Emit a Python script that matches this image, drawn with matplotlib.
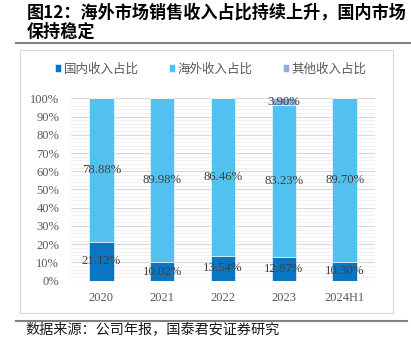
import matplotlib.pyplot as plt
from matplotlib.patches import Rectangle
from matplotlib.lines import Line2D
from matplotlib.ticker import MultipleLocator, PercentFormatter

# data (percent)
years = ['2020', '2021', '2022', '2023', '2024H1']
domestic = [21.12, 10.02, 13.54, 12.87, 10.30]
overseas = [78.88, 89.98, 86.46, 83.23, 89.70]
other = [0, 0, 0, 3.90, 0]
series_names = ['国内收入占比', '海外收入占比', '其他收入占比']
colors = ['#0A76C2', '#53C1EF', '#8FAADC']

cjk = ['Noto Sans CJK SC', 'DejaVu Sans']
serif = 'Liberation Serif'

fig = plt.figure(figsize=(4.11, 3.38), dpi=100)

# title and separators
fig.text(0.066, 0.962, '图12：海外市场销售收入占比持续上升，国内市场', family=cjk,
         fontsize=12.3, weight='bold', va='center', ha='left')
fig.text(0.066, 0.905, '保持稳定', family=cjk, fontsize=12.3, weight='bold',
         va='center', ha='left')
fig.add_artist(Line2D([0.039, 1.0], [0.872, 0.872], color='#808080', lw=1.5))
fig.add_artist(Line2D([0.039, 0.99], [0.051, 0.051], color='#808080', lw=1.5))
fig.add_artist(Rectangle((0.049, 0.074), 0.907, 0.778, fill=False,
                         edgecolor='#D9D9D9', lw=0.8))
fig.text(0.061, 0.022, '数据来源：公司年报，国泰君安证券研究', family=cjk,
         fontsize=10.2, va='center', ha='left', color='#1a1a1a')

ax = fig.add_axes([0.1727, 0.1695, 0.7397, 0.5397])
x = range(len(years))
w = 0.4
b1 = ax.bar(x, domestic, w, color=colors[0], edgecolor='white', lw=0.4,
            label=series_names[0], zorder=3)
b2 = ax.bar(x, overseas, w, bottom=domestic, color=colors[1], edgecolor='white',
            lw=0.4, label=series_names[1], zorder=3)
bottom3 = [a + b for a, b in zip(domestic, overseas)]
b3 = ax.bar(x, other, w, bottom=bottom3, color=colors[2], edgecolor='white',
            lw=0.4, label=series_names[2], zorder=3)

for cont, vals in [(b1, domestic), (b2, overseas), (b3, other)]:
    labels = [f'{v:.2f}%' if v > 0 else '' for v in vals]
    ax.bar_label(cont, labels=labels, label_type='center', family=serif,
                 fontsize=9.2, color='#404040', zorder=4)

ax.set_xlim(-0.5, len(years) - 0.5)
ax.set_ylim(0, 100)
ax.yaxis.set_major_locator(MultipleLocator(10))
ax.yaxis.set_minor_locator(MultipleLocator(2))
ax.yaxis.set_major_formatter(PercentFormatter(decimals=0))
ax.grid(axis='y', which='major', color='#D9D9D9', lw=0.8, zorder=1)
ax.grid(axis='y', which='minor', color='#F0F0F0', lw=0.8, zorder=0)
ax.set_xticks(list(x))
ax.set_xticklabels(years)
ax.tick_params(which='both', length=0)
ax.tick_params(axis='y', pad=8.5)
ax.tick_params(axis='x', pad=8)
for lab in ax.get_xticklabels() + ax.get_yticklabels():
    lab.set_fontfamily(serif)
    lab.set_fontsize(9)
    lab.set_color('#595959')
for s in ax.spines.values():
    s.set_visible(False)

leg = fig.legend(handles=[b1, b2, b3], loc='center', bbox_to_anchor=(0.513, 0.796),
                 ncol=3, frameon=False, prop={'family': cjk, 'size': 9},
                 handlelength=0.5, handleheight=0.5, handletextpad=0.2,
                 columnspacing=2.4, borderaxespad=0)
for t in leg.get_texts():
    t.set_color('#595959')

fig.savefig('out.png', dpi=100)
